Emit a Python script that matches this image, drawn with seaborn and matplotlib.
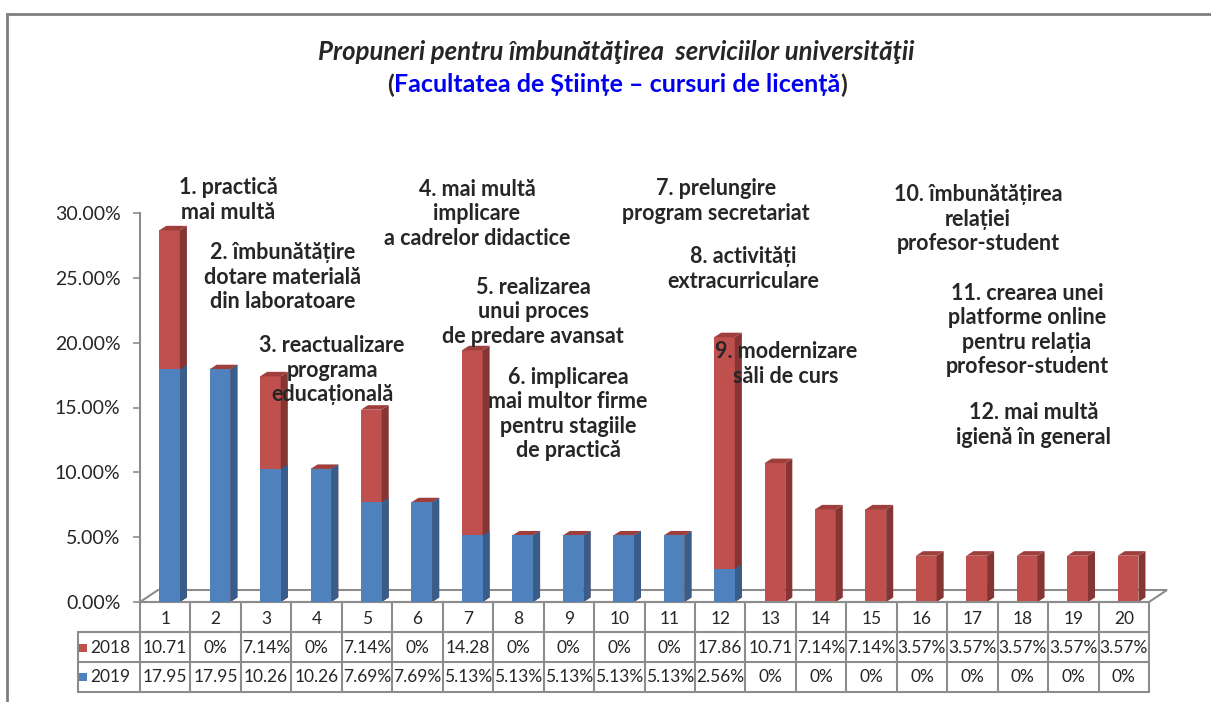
import numpy as np
import pandas as pd
import matplotlib
matplotlib.use("Agg")
import matplotlib.pyplot as plt
import matplotlib.transforms as mtransforms
from matplotlib.patches import Polygon, Rectangle
import seaborn as sns

# data
categories = [str(i) for i in range(1, 21)]
v2018 = [10.71, 0, 7.14, 0, 7.14, 0, 14.28, 0, 0, 0, 0, 17.86,
         10.71, 7.14, 7.14, 3.57, 3.57, 3.57, 3.57, 3.57]
v2019 = [17.95, 17.95, 10.26, 10.26, 7.69, 7.69, 5.13, 5.13, 5.13, 5.13,
         5.13, 2.56, 0, 0, 0, 0, 0, 0, 0, 0]
# table text exactly as printed in the chart
labels2018 = ['10.71', '0%', '7.14%', '0%', '7.14%', '0%', '14.28', '0%', '0%', '0%',
              '0%', '17.86', '10.71', '7.14%', '7.14%', '3.57%', '3.57%', '3.57%', '3.57%', '3.57%']
labels2019 = ['17.95', '17.95', '10.26', '10.26', '7.69%', '7.69%', '5.13%', '5.13%', '5.13%', '5.13%',
              '5.13%', '2.56%', '0%', '0%', '0%', '0%', '0%', '0%', '0%', '0%']
yticks = [0, 5, 10, 15, 20, 25, 30]

notes = [
    "1. practică\nmai multă",
    "2. îmbunătățire\ndotare materială\ndin laboratoare",
    "3. reactualizare\nprograma\neducațională",
    "4. mai multă\nimplicare\na cadrelor didactice",
    "5. realizarea\nunui proces\nde predare avansat",
    "6. implicarea\nmai multor firme\npentru stagiile\nde practică",
    "7. prelungire\nprogram secretariat",
    "8. activități\nextracurriculare",
    "9. modernizare\nsăli de curs",
    "10. îmbunătățirea\nrelației\nprofesor-student",
    "11. crearea unei\nplatforme online\npentru relația\nprofesor-student",
    "12. mai multă\nigienă în general",
]
# note centres, in pixels from the top-left corner
note_pos = [(228, 200), (283, 277), (332, 370), (477, 214), (533, 312), (568, 414),
            (716, 201), (743, 269), (786, 364), (978, 219), (1027, 330), (1034, 425)]

RED, RED_SIDE, RED_TOP = '#C0504D', '#853533', '#9E3F3C'
BLUE, BLUE_SIDE = '#4F81BD', '#385D8A'
GRID = '#8C8C8C'

sns.set_style('white')
plt.rcParams['font.family'] = ['Lato', 'DejaVu Sans']

W, H = 1211, 702
fig = plt.figure(figsize=(W / 100, H / 100), dpi=100)
def fx(px): return px / W
def fy(py): return 1 - py / H

ax = fig.add_axes([fx(140), fy(602), (1149 - 140) / W, (602 - 213) / H])

df = pd.DataFrame({'cat': categories, 'y2018': v2018, 'y2019': v2019})
df['total'] = df['y2018'] + df['y2019']

# stacked look: total in red, 2019 in blue over it
sns.barplot(data=df, x='cat', y='total', order=categories, color=RED, saturation=1,
            width=0.41, linewidth=0, ax=ax)
sns.barplot(data=df, x='cat', y='y2019', order=categories, color=BLUE, saturation=1,
            width=0.41, linewidth=0, ax=ax)

# fake 3d depth on each bar
dx, dy = 0.14, 0.35
bars = list(ax.patches)
for k, b in enumerate(bars):
    x0, y0, w, h = b.get_x(), b.get_y(), b.get_width(), b.get_height()
    if h <= 0:
        continue
    x1 = x0 + w
    red = k < len(categories)
    ax.add_patch(Polygon([(x1, y0), (x1 + dx, y0 + dy), (x1 + dx, y0 + h + dy), (x1, y0 + h)],
                         closed=True, fc=RED_SIDE if red else BLUE_SIDE, ec='none', zorder=2))
    if red:
        ax.add_patch(Polygon([(x0, y0 + h), (x1, y0 + h), (x1 + dx, y0 + h + dy), (x0 + dx, y0 + h + dy)],
                             closed=True, fc=RED_TOP, ec='none', zorder=2))
for b in bars[len(categories):]:
    b.set_zorder(3)

x_left = -0.585
ax.set_xlim(x_left, x_left + len(categories))
ax.set_ylim(0, 30)
ax.set_yticks(yticks)
ax.set_yticklabels([f"{v:.2f}%" for v in yticks])
ax.set_xticks([])
ax.set_xlabel('')
ax.set_ylabel('')
for s in ['top', 'right', 'bottom']:
    ax.spines[s].set_visible(False)
ax.spines['left'].set_color(GRID)
ax.spines['left'].set_linewidth(1.5)
ax.tick_params(axis='y', left=True, length=5, width=1.2, color=GRID, labelsize=14, pad=9)
ax.set_facecolor('none')

# floor of the 3d chart
floor = Polygon([(fx(140), fy(602)), (fx(1149), fy(602)), (fx(1167), fy(590)), (fx(158), fy(590))],
                closed=True, fc='white', ec=GRID, lw=1.5, transform=fig.transFigure,
                zorder=0.5, clip_on=False)
ax.add_patch(floor)

# data table under the chart
tr = mtransforms.blended_transform_factory(ax.transData, fig.transFigure)
edges = [x_left + i for i in range(len(categories) + 1)]
lab_left = x_left - 62 / 50.45
row_y = [602, 632, 662, 692]
for e in edges:
    ax.plot([e, e], [fy(602), fy(692)], color=GRID, lw=1.5, transform=tr, clip_on=False)
ax.plot([lab_left, lab_left], [fy(632), fy(692)], color=GRID, lw=1.5, transform=tr, clip_on=False)
ax.plot([edges[0], edges[-1]], [fy(602), fy(602)], color=GRID, lw=1.5, transform=tr, clip_on=False)
for yy in row_y[1:]:
    ax.plot([lab_left, edges[-1]], [fy(yy), fy(yy)], color=GRID, lw=1.5, transform=tr, clip_on=False)

for i, c in enumerate(categories):
    cx = x_left + i + 0.5
    ax.text(cx, fy(619), c, ha='center', va='center', fontsize=12.5, transform=tr, clip_on=False)
    ax.text(cx, fy(648), labels2018[i], ha='center', va='center', fontsize=12.5, transform=tr, clip_on=False)
    ax.text(cx, fy(677), labels2019[i], ha='center', va='center', fontsize=12.5, transform=tr, clip_on=False)

for name, col, yy in [('2018', RED, 648), ('2019', BLUE, 677)]:
    fig.add_artist(Rectangle((fx(79), fy(yy + 4)), 8 / W, 8 / H, fc=col, ec='none',
                             transform=fig.transFigure))
    fig.text(fx(90), fy(yy), name, ha='left', va='center', fontsize=12.5)

# annotations
for txt, (px, py) in zip(notes, note_pos):
    fig.text(fx(px), fy(py), txt, ha='center', va='center', ma='center',
             fontsize=15.5, fontweight='bold', linespacing=1.18, zorder=5)

# title
fig.text(fx(616), fy(52), "Propuneri pentru îmbunătăţirea  serviciilor universităţii",
         ha='center', va='center', fontsize=18.5, fontweight='bold', fontstyle='italic')
sub = fig.text(fx(617), fy(85), "Facultatea de Științe – cursuri de licență",
               ha='center', va='center', fontsize=18, fontweight='bold', color='#0000EE')
ax.annotate('(', xy=(0, 0.5), xycoords=sub, ha='right', va='center',
            fontsize=18, fontweight='bold', annotation_clip=False)
ax.annotate(')', xy=(1, 0.5), xycoords=sub, ha='left', va='center',
            fontsize=18, fontweight='bold', annotation_clip=False)

# outer chart border
fig.add_artist(Rectangle((fx(7), fy(720)), (1230 - 7) / W, (720 - 14) / H, fill=False,
                         ec='#7F7F7F', lw=2, transform=fig.transFigure))

fig.savefig('out.png', dpi=100)
